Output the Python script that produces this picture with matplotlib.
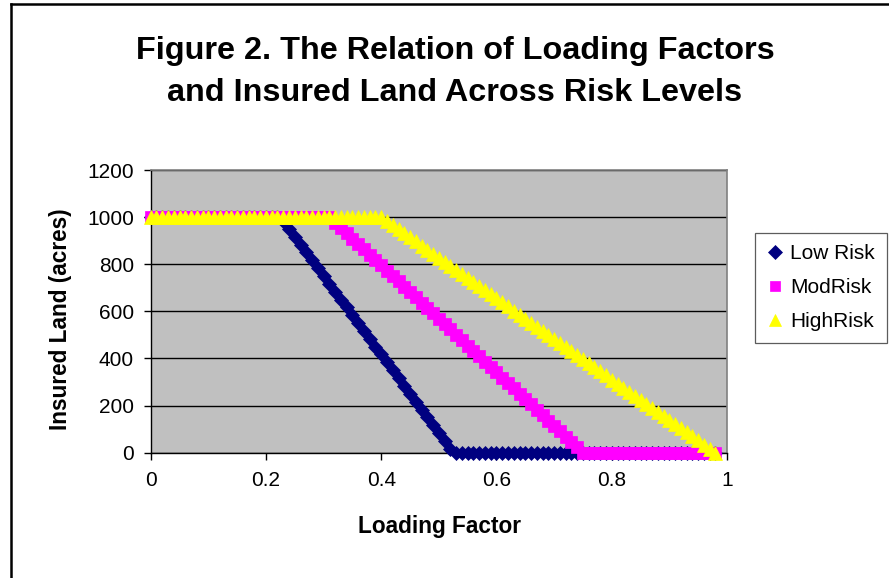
import numpy as np
import matplotlib.pyplot as plt
from matplotlib.lines import Line2D

plt.rcParams['font.family'] = ['Liberation Sans', 'DejaVu Sans']

# Loading factor grid (0.00 .. 0.98 in steps of 0.01)
loading_factor = np.round(np.arange(0, 99) * 0.01, 2)

low_risk = ([1000] * 23 +
            [983, 950, 917, 883, 850, 817, 783, 750, 717, 683,
             650, 617, 583, 550, 517, 483, 450, 417, 383, 350,
             317, 283, 250, 217, 183, 150, 117, 83, 50, 17] +
            [0] * 46)

mod_risk = ([1000] * 32 +
            [977, 955, 932, 909, 886, 864, 841, 818, 795, 773,
             750, 727, 705, 682, 659, 636, 614, 591, 568, 545,
             523, 500, 477, 455, 432, 409, 386, 364, 341, 318,
             295, 273, 250, 227, 205, 182, 159, 136, 114, 91,
             68, 45, 23] +
            [0] * 24)

high_risk = ([1000] * 41 +
             [983, 966, 948, 931, 914, 897, 879, 862, 845, 828,
              810, 793, 776, 759, 741, 724, 707, 690, 672, 655,
              638, 621, 603, 586, 569, 552, 534, 517, 500, 483,
              466, 448, 431, 414, 397, 379, 362, 345, 328, 310,
              293, 276, 259, 241, 224, 207, 190, 172, 155, 138,
              121, 103, 86, 69, 52, 34, 17, 0])

series_names = ['Low Risk', 'ModRisk', 'HighRisk']
x_ticks = [0, 0.2, 0.4, 0.6, 0.8, 1]
x_tick_labels = ['0', '0.2', '0.4', '0.6', '0.8', '1']
y_ticks = [0, 200, 400, 600, 800, 1000, 1200]

W, H = 889, 578
fig = plt.figure(figsize=(W / 100, H / 100), dpi=100)
fig.patch.set_facecolor('white')

# Outer chart frame (left and top edges)
fig.add_artist(Line2D([10.5 / W, 10.5 / W], [0, 1 - 4 / H], transform=fig.transFigure,
                      color='black', lw=1.8))
fig.add_artist(Line2D([10.5 / W, 1], [1 - 4 / H, 1 - 4 / H], transform=fig.transFigure,
                      color='black', lw=1.8))

left, right, top, bottom = 150.7, 727.0, 170.0, 452.7
ax = fig.add_axes([left / W, 1 - bottom / H, (right - left) / W, (bottom - top) / H])
ax.set_facecolor('#C0C0C0')

ax.plot(loading_factor, low_risk, linestyle='none', marker='D', ms=7.4,
        color='#000080', mec='#000080', mew=0.5, label=series_names[0], clip_on=False, zorder=3)
ax.plot(loading_factor, mod_risk, linestyle='none', marker='s', ms=8.0,
        color='#FF00FF', mec='#FF00FF', mew=0.5, label=series_names[1], clip_on=False, zorder=4)
ax.plot(loading_factor, high_risk, linestyle='none', marker='^', ms=9.4,
        color='#FFFF00', mec='#FFFF00', mew=0.5, label=series_names[2], clip_on=False, zorder=5)

ax.set_xlim(0, 1)
ax.set_ylim(0, 1200)
ax.set_xticks(x_ticks)
ax.set_xticklabels(x_tick_labels)
ax.set_yticks(y_ticks)
ax.yaxis.grid(True, color='black', lw=1.0)
ax.set_axisbelow(True)

for side in ['top', 'right']:
    ax.spines[side].set_color('#808080')
    ax.spines[side].set_linewidth(1.2)
for side in ['left', 'bottom']:
    ax.spines[side].set_color('black')
    ax.spines[side].set_linewidth(1.0)

ax.tick_params(axis='both', direction='out', length=5, width=1, color='black',
               labelsize=15, labelcolor='black')
ax.tick_params(axis='x', pad=8.5)
ax.tick_params(axis='y', pad=7)

# Titles and axis labels
fig.text(455 / W, 1 - 58.7 / H, 'Figure 2. The Relation of Loading Factors',
         ha='center', va='baseline', fontsize=23.3, fontweight='bold')
fig.text(455 / W, 1 - 100.7 / H, 'and Insured Land Across Risk Levels',
         ha='center', va='baseline', fontsize=23.3, fontweight='bold')
fig.text(439.5 / W, 1 - 527 / H, 'Loading Factor', ha='center', va='center',
         fontsize=16.3, fontweight='bold')
fig.text(60 / W, 1 - 319.5 / H, 'Insured Land (acres)', ha='center', va='center',
         rotation=90, fontsize=16.3, fontweight='bold')

leg = ax.legend(loc='upper left', bbox_to_anchor=(755 / W, 1 - 233 / H),
                bbox_transform=fig.transFigure, frameon=True, fancybox=False,
                edgecolor='#333333', fontsize=15, borderaxespad=0, borderpad=0.55,
                handlelength=0.8, handletextpad=0.35, labelspacing=0.72,
                markerscale=0.9)
leg.get_frame().set_linewidth(0.9)

fig.savefig('out.png', dpi=100, facecolor='white')
